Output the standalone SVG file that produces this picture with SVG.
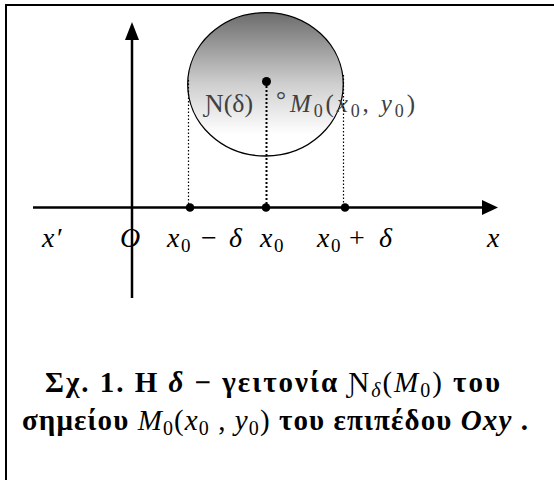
<svg xmlns="http://www.w3.org/2000/svg" width="554" height="480" viewBox="0 0 554 480">
<defs>
<linearGradient id="g" x1="0" y1="0" x2="0" y2="1">
<stop offset="0" stop-color="#6c6c6c"/>
<stop offset="0.5" stop-color="#cfcfcf"/>
<stop offset="0.85" stop-color="#ffffff"/>
<stop offset="1" stop-color="#ffffff"/>
</linearGradient>
<style>
.ax{stroke:#000;stroke-width:2.5;fill:none}
.dot1{stroke:#000;stroke-width:1.2;stroke-dasharray:1.5 2;fill:none}
.dot2{stroke:#000;stroke-width:2;stroke-dasharray:2 2;fill:none}
.m{font-family:"Liberation Serif","DejaVu Serif",serif;font-style:italic;font-size:28px;fill:#000}
.s{font-style:normal;font-size:19px}
.u{font-style:normal}
.b{font-family:"Liberation Serif","DejaVu Serif",serif;font-weight:bold;font-size:29px;fill:#000}
.bi{font-style:italic}
.n{font-weight:normal}
.cs{font-weight:normal;font-size:20px}
.lab{font-family:"Liberation Serif","DejaVu Serif",serif;font-size:25px;fill:#404040}
.ls{font-size:18px}
.li{font-style:italic}
</style>
</defs>
<g id="frame">
<line x1="6" y1="5" x2="554" y2="5" stroke="#000" stroke-width="2"/>
<line x1="6" y1="4" x2="6" y2="480" stroke="#000" stroke-width="2"/>
</g>
<g id="neighbourhood">
<ellipse cx="265.5" cy="84.3" rx="77.8" ry="71.7" fill="url(#g)" stroke="#000" stroke-width="1.3"/>
<circle cx="266.5" cy="81.5" r="4.5" fill="#000"/>
<text class="lab" x="205" y="112" textLength="48" lengthAdjust="spacingAndGlyphs">Ɲ(δ)</text>
<text class="lab" x="276" y="108">°</text>
<text class="lab" x="290" y="112" textLength="125" lengthAdjust="spacing"><tspan class="li">M</tspan><tspan class="ls" dy="5">0</tspan><tspan dy="-5">(</tspan><tspan class="li">x</tspan><tspan class="ls" dy="5">0</tspan><tspan dy="-5">, </tspan><tspan class="li">y</tspan><tspan class="ls" dy="5">0</tspan><tspan dy="-5">)</tspan></text>
</g>
<g id="connectors">
<line class="dot1" x1="188.5" y1="80" x2="188.5" y2="205"/>
<line class="dot2" x1="266.5" y1="86" x2="266.5" y2="205"/>
<line class="dot1" x1="343.5" y1="75" x2="343.5" y2="205"/>
</g>
<g id="axes">
<line class="ax" x1="132" y1="298" x2="132" y2="36"/>
<polygon points="132,22 125,40 139,40" fill="#000"/>
<line class="ax" x1="33" y1="207.5" x2="486" y2="207.5"/>
<polygon points="498,207.5 482,200 482,215" fill="#000"/>
<circle cx="190" cy="207.5" r="4.3" fill="#000"/>
<circle cx="266" cy="207.5" r="4.3" fill="#000"/>
<circle cx="345" cy="207.5" r="4.3" fill="#000"/>
</g>
<g id="axis-labels">
<text class="m" y="247"><tspan x="42">x</tspan><tspan x="57" class="u">′</tspan></text>
<text class="m" x="120" y="247">O</text>
<text class="m" y="247"><tspan x="167">x</tspan><tspan x="181" y="252" class="s">0</tspan><tspan x="201" y="247" class="u">−</tspan><tspan x="229">δ</tspan></text>
<text class="m" y="247"><tspan x="260">x</tspan><tspan x="274" y="252" class="s">0</tspan></text>
<text class="m" y="247"><tspan x="317">x</tspan><tspan x="331" y="252" class="s">0</tspan><tspan x="349" y="247" class="u">+</tspan><tspan x="379">δ</tspan></text>
<text class="m" x="487" y="247">x</text>
</g>
<g id="caption">
<text class="b" x="45" y="392" textLength="455" lengthAdjust="spacing">Σχ. 1.   Η <tspan class="bi">δ</tspan> − γειτονία <tspan class="n">Ɲ</tspan><tspan class="cs bi" dy="5">δ</tspan><tspan class="n" dy="-5">(</tspan><tspan class="n bi">M</tspan><tspan class="cs" dy="5">0</tspan><tspan class="n" dy="-5">)</tspan> του</text>
<text class="b" x="22" y="430" textLength="506" lengthAdjust="spacing">σημείου <tspan class="n bi">M</tspan><tspan class="cs" dy="5">0</tspan><tspan class="n" dy="-5">(</tspan><tspan class="n bi">x</tspan><tspan class="cs" dy="5">0</tspan><tspan class="n" dy="-5"> , </tspan><tspan class="n bi">y</tspan><tspan class="cs" dy="5">0</tspan><tspan class="n" dy="-5">)</tspan> του επιπέδου <tspan class="bi">Oxy</tspan> .</text>
</g>
</svg>
